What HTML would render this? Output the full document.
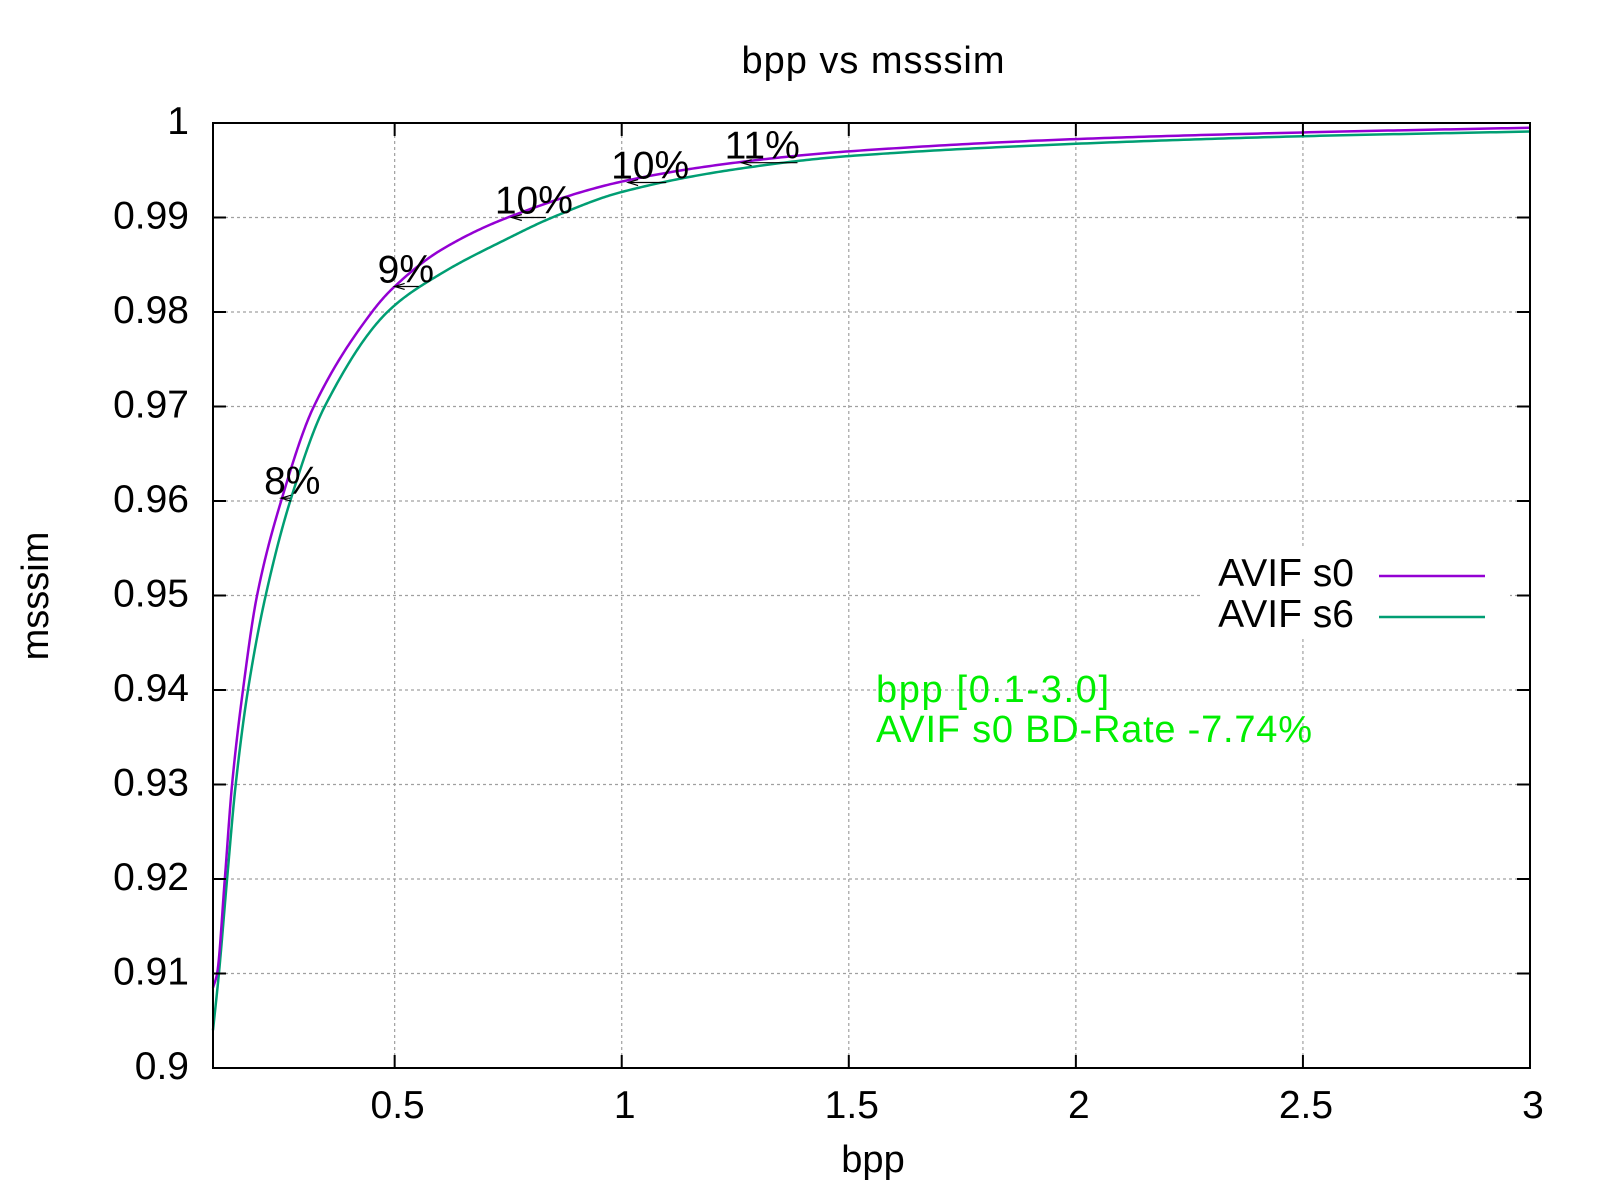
<!DOCTYPE html>
<html><head><meta charset="utf-8"><style>
html,body{margin:0;padding:0;background:#fff;}
svg{display:block;font-family:"Liberation Sans",Arial,sans-serif;}
</style></head><body>
<svg id="chart" width="1600" height="1200" viewBox="0 0 1600 1200" xmlns="http://www.w3.org/2000/svg">
<rect x="0" y="0" width="1600" height="1200" fill="#fff"/>
<g id="grid"></g>
<rect x="1200" y="546" width="310" height="92" fill="#fff"/>
<g id="series"></g>
<g id="annot"></g>
<rect x="213" y="123" width="1317" height="945" fill="none" stroke="#000" stroke-width="2"/>
<g id="ticks"></g>
<text x="873" y="73" font-size="38" text-anchor="middle" textLength="263">bpp vs msssim</text>
<text x="873" y="1172" font-size="38" text-anchor="middle">bpp</text>
<text x="0" y="0" font-size="38" text-anchor="middle" transform="translate(48,596) rotate(-90)">msssim</text>
<g>
<text x="1354" y="586" font-size="39" text-anchor="end">AVIF s0</text>
<line x1="1379" y1="576" x2="1485" y2="576" stroke="#9400d3" stroke-width="2.5"/>
<text x="1354" y="627" font-size="39" text-anchor="end">AVIF s6</text>
<line x1="1379" y1="617" x2="1485" y2="617" stroke="#009e73" stroke-width="2.5"/>
</g>
<text x="876" y="702" font-size="38" fill="#00ee00" textLength="233">bpp [0.1-3.0]</text>
<text x="876" y="742" font-size="38" fill="#00ee00" textLength="436">AVIF s0 BD-Rate -7.74%</text>
</svg>
<script>
const xTicks = [0.5, 1, 1.5, 2, 2.5, 3];
const xTickLabels = ["0.5", "1", "1.5", "2", "2.5", "3"];
const yTicks = [0.9, 0.91, 0.92, 0.93, 0.94, 0.95, 0.96, 0.97, 0.98, 0.99, 1];
const yTickLabels = ["0.9", "0.91", "0.92", "0.93", "0.94", "0.95", "0.96", "0.97", "0.98", "0.99", "1"];
const s0Bpp = [0.1,0.109,0.126,0.142,0.166,0.197,0.25,0.322,0.45,0.5,0.6,0.749,1.0,1.25,1.5,2.0,2.5,3.0];
const s0Val = [0.9085,0.91,0.92,0.93,0.94,0.95,0.96,0.97,0.98,0.9827,0.9865,0.99,0.9938,0.9958,0.9970,0.9983,0.9990,0.9995];
const s6Bpp = [0.1,0.113,0.131,0.150,0.177,0.216,0.27,0.346,0.484,0.6,0.75,0.847,1.0,1.25,1.5,2.0,2.5,3.0];
const s6Val = [0.904,0.91,0.92,0.93,0.94,0.95,0.96,0.97,0.98,0.9840,0.9878,0.99,0.9927,0.9951,0.9965,0.9978,0.9986,0.9991];
const annLevel = [0.9603, 0.9827, 0.99, 0.9937, 0.9958];
const annS0Bpp = [0.25, 0.50, 0.758, 1.014, 1.264];
const annS6Bpp = [0.27, 0.553, 0.833, 1.098, 1.387];
const annLabels = ["8%", "9%", "10%", "10%", "11%"];

const NS = "http://www.w3.org/2000/svg";
const L = 213, R = 1530, T = 123, B = 1068;
const xMin = 0.1, xMax = 3, yMin = 0.9, yMax = 1;
function xs(v){ return L + (v - xMin) / (xMax - xMin) * (R - L); }
function ys(v){ return B - (v - yMin) / (yMax - yMin) * (B - T); }
function mk(tag, attrs, parent){
  const e = document.createElementNS(NS, tag);
  for (const k in attrs) e.setAttribute(k, attrs[k]);
  parent.appendChild(e);
  return e;
}
const grid = document.getElementById('grid');
const ticks = document.getElementById('ticks');
xTicks.forEach((v, i) => {
  const x = xs(v);
  if (v < xMax) {
    const g = mk('line', {x1:x, y1:T, x2:x, y2:B, stroke:'#a0a0a0', 'stroke-width':1.2, 'stroke-dasharray':'3,3'}, grid);
    
    
    const t1 = mk('line', {x1:x, y1:B, x2:x, y2:B-13, stroke:'#000', 'stroke-width':2}, ticks);
    
    
    const t2 = mk('line', {x1:x, y1:T, x2:x, y2:T+13, stroke:'#000', 'stroke-width':2}, ticks);
    
    
  }
  const lb = mk('text', {x:x+3, y:1118, 'font-size':39, 'text-anchor':'middle'}, ticks);
  lb.textContent = xTickLabels[i];
  
  
});
yTicks.forEach((v, i) => {
  const y = ys(v);
  if (v > yMin && v < yMax) {
    const g = mk('line', {x1:L, y1:y, x2:R, y2:y, stroke:'#a0a0a0', 'stroke-width':1.2, 'stroke-dasharray':'3,3'}, grid);
    
    
    const t1 = mk('line', {x1:L, y1:y, x2:L+13, y2:y, stroke:'#000', 'stroke-width':2}, ticks);
    
    
    const t2 = mk('line', {x1:R, y1:y, x2:R-13, y2:y, stroke:'#000', 'stroke-width':2}, ticks);
    
    
  }
  const lb = mk('text', {x:189, y:y+11, 'font-size':39, 'text-anchor':'end'}, ticks);
  lb.textContent = yTickLabels[i];
  
  
});
// monotone cubic (Fritsch-Carlson) interpolation for rendering only
function monoPath(bx, by){
  const n = bx.length, d = [], m = [];
  for (let i = 0; i < n-1; i++) d.push((by[i+1]-by[i])/(bx[i+1]-bx[i]));
  m.push(d[0]);
  for (let i = 1; i < n-1; i++) m.push(d[i-1]*d[i] <= 0 ? 0 : 2/(1/d[i-1]+1/d[i]));
  m.push(d[n-2]);
  let path = '';
  for (let i = 0; i < n-1; i++) {
    const h = bx[i+1]-bx[i];
    const steps = 40;
    for (let s = (i === 0 ? 0 : 1); s <= steps; s++) {
      const t = s/steps, t2 = t*t, t3 = t2*t;
      const v = (2*t3-3*t2+1)*by[i] + (t3-2*t2+t)*h*m[i] + (-2*t3+3*t2)*by[i+1] + (t3-t2)*h*m[i+1];
      const xv = bx[i] + t*h;
      path += (path ? ' L' : 'M') + xs(xv).toFixed(2) + ',' + ys(v).toFixed(2);
    }
  }
  return path;
}
const series = document.getElementById('series');
const l6 = mk('path', {d:monoPath(s6Bpp, s6Val), fill:'none', stroke:'#009e73', 'stroke-width':2.5, 'stroke-linejoin':'round'}, series);


const l0 = mk('path', {d:monoPath(s0Bpp, s0Val), fill:'none', stroke:'#9400d3', 'stroke-width':2.5, 'stroke-linejoin':'round'}, series);


const annot = document.getElementById('annot');
annLevel.forEach((lv, i) => {
  const y = ys(lv), xa = xs(annS0Bpp[i]), xb = xs(annS6Bpp[i]);
  const a = mk('line', {x1:xb, y1:y, x2:xa, y2:y, stroke:'#000', 'stroke-width':1.2}, annot);
  
  
  const h = mk('path', {d:'M'+(xa+10)+','+(y-3)+' L'+xa+','+y+' L'+(xa+10)+','+(y+3), fill:'none', stroke:'#000', 'stroke-width':1.2}, annot);
  
  
  const t = mk('text', {x:xa-17, y:y-4, 'font-size':39}, annot);
  t.textContent = annLabels[i];
  
  
});
</script>
</body></html>
